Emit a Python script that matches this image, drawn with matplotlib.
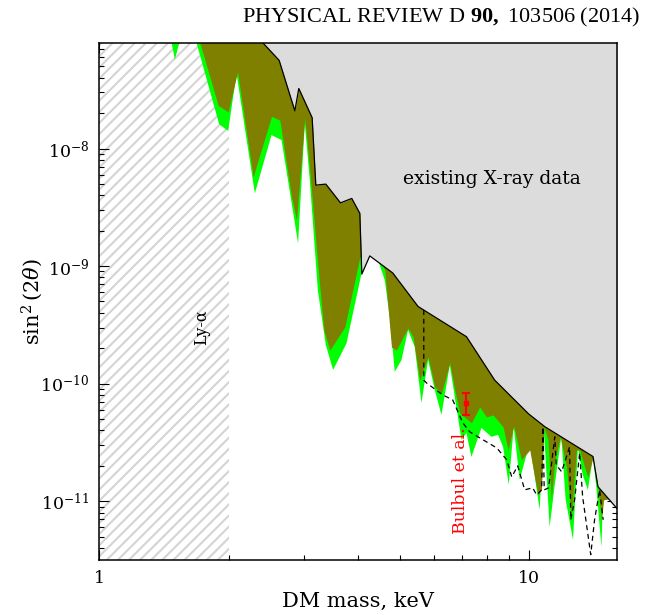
import matplotlib
matplotlib.use('Agg')
import matplotlib.pyplot as plt
from matplotlib.ticker import LogLocator, NullFormatter

# values (PRD 90, 103506)
# upper edge: existing X-ray bounds (black line, grey above)
xray_mass = [2.265, 2.406, 2.622, 2.852, 2.913, 3.129, 3.191, 3.367, 3.642, 3.869,
             4.040, 4.083, 4.261, 4.820, 5.520, 7.152, 8.323, 9.98, 10.88, 14.09,
             14.47, 15.97, 16.2]
xray_sin2 = [1.0e-7, 7.88e-8, 5.62e-8, 2.09e-8, 3.24e-8, 1.83e-8, 4.88e-9, 4.98e-9,
             3.45e-9, 3.76e-9, 2.81e-9, 8.55e-10, 1.22e-9, 8.73e-10, 4.53e-10,
             2.51e-10, 1.07e-10, 5.53e-11, 4.31e-11, 2.40e-11, 1.33e-11, 8.79e-12,
             8.5e-12]

# lower edge of the olive band (= upper edge of the green band)
olive_mass = [1.0, 1.683, 1.891, 1.995, 2.098, 2.281, 2.517, 2.632, 2.802, 2.878,
              3.008, 3.090, 3.226, 3.331, 3.440, 3.727, 4.040, 4.262, 4.497, 4.617,
              4.786, 4.916, 5.093, 5.231, 5.373, 5.570, 5.823, 6.036, 6.256, 6.541,
              6.719, 6.902, 7.345, 7.680, 7.962, 8.249, 8.704, 8.940, 9.213, 9.601,
              10.04, 10.49, 10.69, 10.84, 11.07, 11.27, 11.48, 11.83, 12.22, 12.55,
              12.89, 13.12, 13.47, 13.71, 14.09, 14.47, 14.74, 14.92, 15.41, 16.2]
olive_sin2 = [1.0e-7, 1.0e-7, 2.33e-8, 2.05e-8, 4.48e-8, 5.74e-9, 1.88e-8, 1.74e-8,
              3.88e-9, 2.46e-9, 1.81e-8, 6.54e-9, 1.02e-9, 2.86e-10, 1.93e-10,
              3.03e-10, 1.19e-9, 1.24e-9, 1.12e-9, 9.25e-10, 2.05e-10, 1.93e-10,
              2.49e-10, 2.97e-10, 2.49e-10, 1.07e-10, 1.69e-10, 9.37e-11, 8.33e-11,
              1.50e-10, 8.84e-11, 5.63e-11, 4.64e-11, 6.34e-11, 5.21e-11, 5.42e-11,
              4.29e-11, 2.73e-11, 4.37e-11, 2.25e-11, 2.73e-11, 1.13e-11, 1.25e-11,
              4.29e-11, 3.33e-11, 1.03e-11, 2.25e-11, 3.53e-11, 1.96e-11, 7.36e-12,
              2.73e-11, 2.73e-11, 1.96e-11, 1.61e-11, 2.38e-11, 1.30e-11, 6.95e-12,
              1.03e-11, 1.05e-11, 8.5e-12]

# lower edge of the green band
green_mass = [1.0, 1.455, 1.500, 1.561, 1.655, 1.901, 1.995, 2.087, 2.302, 2.517,
              2.656, 2.902, 3.008, 3.090, 3.226, 3.367, 3.501, 3.761, 4.077, 4.262,
              4.456, 4.617, 4.743, 4.872, 5.050, 5.231, 5.422, 5.621, 5.823, 6.036,
              6.256, 6.541, 6.965, 7.152, 7.345, 7.751, 8.178, 8.473, 8.704, 8.973,
              9.213, 9.515, 10.04, 10.59, 10.82, 11.17, 11.48, 11.89, 12.17, 12.66,
              13.00, 13.33, 13.71, 14.09, 14.35, 14.74, 14.86, 15.41, 16.2]
green_sin2 = [1.0e-7, 1.0e-7, 5.70e-8, 1.0e-7, 1.0e-7, 1.61e-8, 1.41e-8, 4.33e-8,
              4.15e-9, 1.30e-8, 1.18e-8, 1.56e-9, 1.64e-8, 5.38e-9, 6.25e-10,
              2.13e-10, 1.31e-10, 2.20e-10, 8.67e-10, 1.22e-9, 1.12e-9, 7.60e-10,
              3.69e-10, 1.26e-10, 1.59e-10, 2.86e-10, 2.05e-10, 6.86e-11, 1.59e-10,
              8.84e-11, 5.42e-11, 1.44e-10, 3.33e-11, 3.81e-11, 2.38e-11, 4.20e-11,
              3.53e-11, 3.67e-11, 2.90e-11, 1.38e-11, 4.29e-11, 1.52e-11, 3.14e-11,
              8.45e-12, 4.29e-11, 6.06e-12, 1.38e-11, 3.53e-11, 1.03e-11, 4.70e-12,
              2.84e-11, 1.68e-11, 1.25e-11, 2.38e-11, 1.30e-11, 4.10e-12, 1.03e-11,
              1.05e-11, 8.5e-12]

# dashed curve
dash_mass = [5.691, 5.691, 5.783, 6.30, 6.645, 7.015, 7.28, 7.680, 8.414, 8.876,
             9.117, 9.413, 9.772, 10.20, 10.42, 10.70, 10.78, 10.85, 11.11, 11.48,
             11.57, 11.91, 12.43, 12.51, 12.77, 13.12, 13.33, 13.92, 14.21, 14.60,
             14.88]
dash_sin2 = [4.23e-10, 1.07e-10, 1.01e-10, 8.02e-11, 7.27e-11, 4.64e-11, 3.89e-11,
             3.46e-11, 2.84e-11, 2.25e-11, 1.61e-11, 2.0e-11, 1.25e-11, 1.30e-11,
             1.13e-11, 1.25e-11, 4.29e-11, 1.25e-11, 1.30e-11, 3.53e-11, 2.04e-11,
             1.78e-11, 2.90e-11, 6.95e-12, 1.03e-11, 2.58e-11, 1.09e-11, 3.51e-12,
             6.95e-12, 1.25e-11, 6.95e-12]

# Bulbul et al. point
bulbul_mass = 7.15
bulbul_sin2 = 6.86e-11
bulbul_lo = 5.42e-11
bulbul_hi = 8.33e-11

lya_limit = 2.0

plt.rcParams['font.family'] = 'DejaVu Serif'
plt.rcParams['mathtext.fontset'] = 'custom'
plt.rcParams['mathtext.rm'] = 'DejaVu Serif'
plt.rcParams['mathtext.it'] = 'DejaVu Serif:italic'
plt.rcParams['mathtext.bf'] = 'Liberation Serif:bold'
plt.rcParams['hatch.linewidth'] = 1.5

fig = plt.figure(figsize=(6.66, 6.15), dpi=100)
ax = fig.add_axes([0.149, 0.0894, 0.777, 0.8412])
ax.set_xscale('log')
ax.set_yscale('log')
ax.set_xlim(1, 16)
ax.set_ylim(10**-11.5, 10**-7.1)

top = 1e-6
ax.axvspan(1, lya_limit, facecolor='white', edgecolor='#d4d4d4', hatch='///',
           lw=0, zorder=0.5)
ax.fill_between(green_mass, green_sin2, top, color='#00ff00', lw=0, zorder=1)
ax.fill_between(olive_mass, olive_sin2, top, color='#808000', lw=0, zorder=2)
ax.fill_between(xray_mass, xray_sin2, top, color='#dcdcdc', lw=0, zorder=3)
ax.plot(xray_mass, xray_sin2, color='black', lw=0.9, zorder=4)
ax.plot(dash_mass, dash_sin2, color='black', lw=0.9, dashes=(4, 3), zorder=4)

ax.errorbar([bulbul_mass], [bulbul_sin2],
            yerr=[[bulbul_sin2 - bulbul_lo], [bulbul_hi - bulbul_sin2]],
            fmt='s', color='red', ms=3, capsize=3, elinewidth=1.5, capthick=1.5,
            zorder=5)
ax.text(6.94, 1.49e-11, 'Bulbul et al.', color='red', rotation=90,
        ha='center', va='center', fontsize=12.5, zorder=6)
ax.text(1.729, 3.03e-10, 'Ly-α', rotation=90, ha='center', va='center',
        fontsize=11.5, zorder=6)
ax.text(8.178, 5.49e-9, 'existing X-ray data', ha='center', va='center',
        fontsize=13.5, zorder=6)

ax.set_xticks([1, 10], ['1', '10'])
ax.xaxis.set_minor_locator(LogLocator(base=10, subs=range(2, 10)))
ax.xaxis.set_minor_formatter(NullFormatter())
ax.yaxis.set_minor_formatter(NullFormatter())
ax.tick_params(which='both', direction='in', top=True, right=True, width=0.8,
               labelsize=12.5, pad=7)
ax.tick_params(which='major', length=7.5)
ax.tick_params(which='minor', length=3.8)
for s in ax.spines.values():
    s.set_linewidth(1.1)
    s.set_zorder(7)

ax.set_xlabel('DM mass, keV', fontsize=15, labelpad=4)
ax.set_ylabel(r'$\sin^2(2\theta)$', fontsize=15, labelpad=-3)

fig.text(0.961, 0.972, r'PHYSICAL REVIEW D $\mathbf{90,}$ 103506 (2014)',
         ha='right', va='center', family='Liberation Serif', fontsize=16)

fig.savefig('out.png', dpi=100)
